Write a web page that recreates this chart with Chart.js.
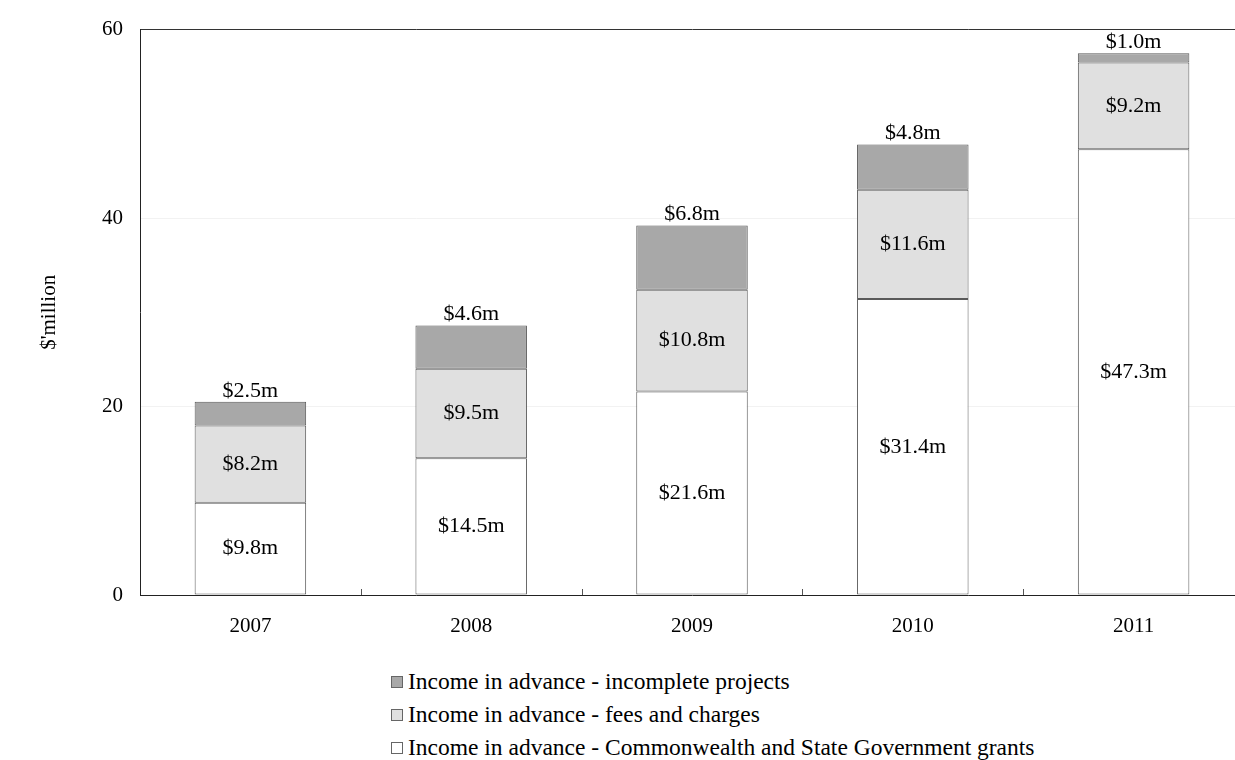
<!DOCTYPE html>
<html>
<head>
<meta charset="utf-8">
<script src="https://cdn.jsdelivr.net/npm/chart.js@4.4.1/dist/chart.umd.min.js"></script>
<style>
  body { margin: 0; background: #fff; overflow: hidden; }
  #wrap { position: relative; width: 1235px; height: 760px; overflow: hidden; }
  #box { position: absolute; left: 0; top: 0; width: 1250px; height: 650px; }
  #legend { position: absolute; left: 391px; top: 666px; font-family: "Liberation Serif", "Times New Roman", serif; font-size: 23.5px; color: #000; }
  #legend div { height: 33px; line-height: 30px; white-space: nowrap; }
  #legend span { display: inline-block; width: 10px; height: 10px; border: 1px solid #666; margin-right: 5px; vertical-align: 1px; }
</style>
</head>
<body>
<div id="wrap">
  <div id="box"><canvas id="myChart" width="1250" height="650"></canvas></div>
  <div id="legend"></div>
</div>
<script>
const years = ["2007", "2008", "2009", "2010", "2011"];
const grants = [9.8, 14.5, 21.6, 31.4, 47.3];
const fees = [8.2, 9.5, 10.8, 11.6, 9.2];
const projects = [2.5, 4.6, 6.8, 4.8, 1.0];
const yTicks = [0, 20, 40, 60];

const seriesNames = [
  "Income in advance - Commonwealth and State Government grants",
  "Income in advance - fees and charges",
  "Income in advance - incomplete projects",
];
const seriesColors = ["#ffffff", "#e0e0e0", "#a8a8a8"];

const fontFamily = '"Liberation Serif", "Times New Roman", serif';

// value labels: inside for the lower two, above the bar for the top one
const barLabels = {
  id: "barLabels",
  afterDatasetsDraw(chart) {
    const c = chart.ctx;
    c.save();
    c.font = "22px " + fontFamily;
    c.fillStyle = "#000";
    c.textAlign = "center";
    chart.data.datasets.forEach(function (ds, i) {
      const meta = chart.getDatasetMeta(i);
      meta.data.forEach(function (bar, j) {
        const text = "$" + ds.data[j].toFixed(1) + "m";
        if (i === 2) {
          c.textBaseline = "bottom";
          c.fillText(text, bar.x, bar.y);
        } else {
          c.textBaseline = "middle";
          c.fillText(text, bar.x, (bar.y + bar.base) / 2);
        }
      });
    });
    c.restore();
  },
};

// short inside tick marks between categories
const catTicks = {
  id: "catTicks",
  afterDraw(chart) {
    const x = chart.scales.x;
    const c = chart.ctx;
    const step = (x.right - x.left) / years.length;
    c.save();
    c.strokeStyle = "#555";
    c.lineWidth = 1;
    for (let k = 1; k < years.length; k++) {
      const px = Math.round(x.left + step * k) + 0.5;
      c.beginPath();
      c.moveTo(px, x.top);
      c.lineTo(px, x.top - 6);
      c.stroke();
    }
    c.restore();
  },
};

const ctx = document.getElementById("myChart");
const chart = new Chart(ctx, {
  type: "bar",
  data: {
    labels: years,
    datasets: [
      { label: seriesNames[0], data: grants },
      { label: seriesNames[1], data: fees },
      { label: seriesNames[2], data: projects },
    ].map(function (d, i) {
      d.backgroundColor = seriesColors[i];
      d.borderColor = "#5a5a5a";
      d.borderWidth = 1;
      d.borderSkipped = false;
      d.barPercentage = 1;
      d.categoryPercentage = 0.505;
      return d;
    }),
  },
  options: {
    responsive: false,
    animation: false,
    layout: { padding: { top: 25, right: 6, left: 0, bottom: 0 } },
    plugins: {
      legend: { display: false },
      tooltip: { enabled: false },
    },
    scales: {
      x: {
        stacked: true,
        grid: { display: false },
        border: { color: "#222", width: 1 },
        ticks: { color: "#000", font: { family: fontFamily, size: 21 }, padding: 11 },
        afterFit(scale) { scale.height = 55; },
      },
      y: {
        stacked: true,
        min: 0,
        max: 60,
        afterBuildTicks(scale) { scale.ticks = yTicks.map(function (v) { return { value: v }; }); },
        grid: {
          drawTicks: false,
          color(c) { return c.tick && c.tick.value === 60 ? "#333" : "#f2f2f2"; },
        },
        border: { color: "#222", width: 1 },
        ticks: { color: "#000", font: { family: fontFamily, size: 21 }, padding: 17 },
        title: {
          display: true,
          text: "$'million",
          color: "#000",
          font: { family: fontFamily, size: 21 },
          padding: { top: 37, bottom: 0 },
        },
        afterFit(scale) { scale.width = 140; },
      },
    },
  },
  plugins: [barLabels, catTicks],
});

// legend, top series first
const legendBox = document.getElementById("legend");
for (let i = seriesNames.length - 1; i >= 0; i--) {
  const row = document.createElement("div");
  const sw = document.createElement("span");
  sw.style.background = seriesColors[i];
  row.appendChild(sw);
  row.appendChild(document.createTextNode(seriesNames[i]));
  legendBox.appendChild(row);
}
</script>
</body>
</html>
